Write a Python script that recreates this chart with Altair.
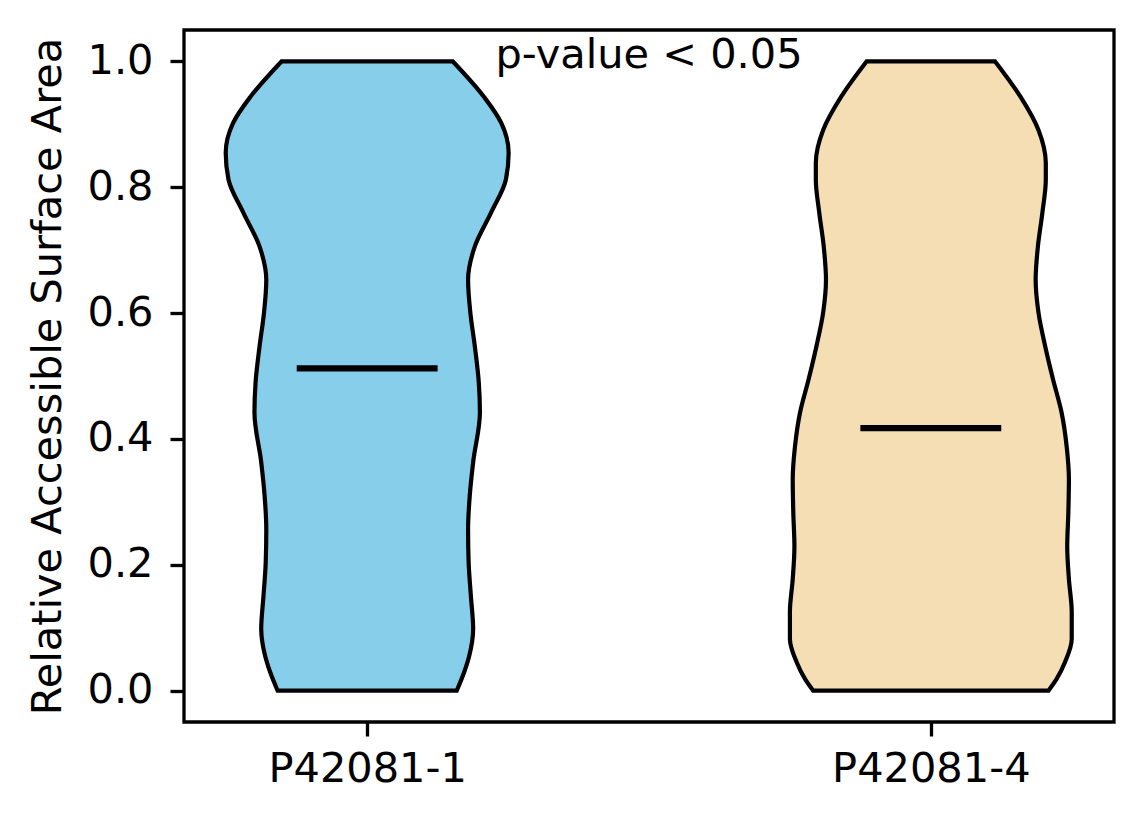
import altair as alt
import pandas as pd

# ---- data ----
categories = ["P42081-1", "P42081-4"]
positions = [1, 2]
fill_colors = ["#87CEEB", "#F5DEB3"]

# violin outline: relative ASA value and half-width (x units) of the KDE profile
left_rsa = [0.0, 0.029, 0.055, 0.098, 0.150, 0.204, 0.256, 0.310, 0.363, 0.442, 0.490,
            0.547, 0.601, 0.653, 0.706, 0.760, 0.812, 0.855, 0.902, 0.944, 1.0]
left_halfwidth = [0.159, 0.172, 0.181, 0.188, 0.184, 0.180, 0.179, 0.182, 0.188, 0.200, 0.198,
                  0.191, 0.183, 0.179, 0.191, 0.220, 0.246, 0.251, 0.238, 0.207, 0.152]

right_rsa = [0.0, 0.018, 0.045, 0.082, 0.125, 0.177, 0.229, 0.283, 0.336, 0.388, 0.442,
             0.494, 0.547, 0.601, 0.653, 0.706, 0.760, 0.812, 0.839, 0.891, 0.944, 1.0]
right_halfwidth = [0.209, 0.223, 0.238, 0.250, 0.250, 0.245, 0.242, 0.244, 0.245, 0.241, 0.232,
                   0.217, 0.203, 0.191, 0.186, 0.190, 0.198, 0.204, 0.204, 0.191, 0.159, 0.114]

medians = [0.512, 0.417]
annotation = "p-value < 0.05"
y_ticks = [0.0, 0.2, 0.4, 0.6, 0.8, 1.0]
y_title = "Relative Accessible Surface Area"

# ---- tables ----
rows = []
for cat, pos, vs, hws in zip(categories, positions,
                             [left_rsa, right_rsa], [left_halfwidth, right_halfwidth]):
    for v, hw in zip(vs, hws):
        rows.append({"cat": cat, "pos": pos, "rsa": v, "hw": hw})
shape_df = pd.DataFrame(rows)
med_df = pd.DataFrame({"cat": categories, "pos": positions, "median": medians})
txt_df = pd.DataFrame({"label": [annotation],
                       "x": [sum(positions) / len(positions)], "y": [max(y_ticks)]})

label_expr = " : ".join(f"datum.value == {p} ? '{c}'" for p, c in zip(positions, categories)) + " : ''"

FONT = "DejaVu Sans"
FS = 41.5
xscale = alt.Scale(domain=[0.675, 2.325], nice=False, zero=False)
yscale = alt.Scale(domain=[-0.05, 1.05], nice=False, zero=False)

xaxis = alt.Axis(values=positions, labelExpr=label_expr, title=None, labelPadding=12,
                 labelLimit=600)
yaxis = alt.Axis(values=y_ticks, format=".1f", title=y_title, labelPadding=17, titlePadding=18)

violins = (
    alt.Chart(shape_df)
    .transform_calculate(lo="datum.pos - datum.hw", hi="datum.pos + datum.hw")
    .mark_area(orient="horizontal", interpolate="monotone", stroke="black",
               strokeWidth=4.2, opacity=1)
    .encode(
        y=alt.Y("rsa:Q", scale=yscale, axis=yaxis),
        x=alt.X("lo:Q", scale=xscale, axis=xaxis),
        x2="hi:Q",
        color=alt.Color("cat:N", scale=alt.Scale(domain=categories, range=fill_colors), legend=None),
        detail="cat:N",
    )
)

median_rules = (
    alt.Chart(med_df)
    .transform_calculate(lo="datum.pos - 0.125", hi="datum.pos + 0.125")
    .mark_rule(color="black", strokeWidth=6.2)
    .encode(y=alt.Y("median:Q", scale=yscale), x=alt.X("lo:Q", scale=xscale), x2="hi:Q")
)

pval = (
    alt.Chart(txt_df)
    .mark_text(font=FONT, fontSize=FS, color="black", baseline="alphabetic", dy=7)
    .encode(x=alt.X("x:Q", scale=xscale), y=alt.Y("y:Q", scale=yscale), text="label:N")
)

chart = (
    alt.layer(violins, median_rules, pval)
    .properties(width=930, height=692, autosize=alt.AutoSizeParams(type="none"),
                padding={"left": 176, "top": 22, "right": 22, "bottom": 90},
                background="white")
    .configure_view(stroke="black", strokeWidth=3.3)
    .configure_axis(domain=False, grid=False, tickColor="black", tickWidth=3.3, tickSize=14,
                    labelFont=FONT, labelFontSize=FS, labelColor="black",
                    titleFont=FONT, titleFontSize=FS, titleFontWeight="normal", titleColor="black")
)

chart.save("out.html", embed_options={"renderer": "svg", "actions": False})
